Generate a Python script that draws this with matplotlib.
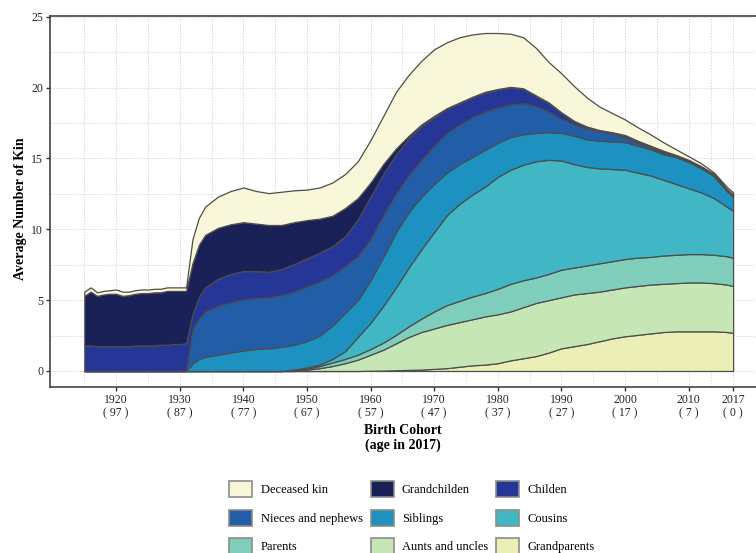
import matplotlib
matplotlib.use("Agg")
import matplotlib.pyplot as plt
from matplotlib.patches import Patch

plt.rcParams["font.family"] = ["Liberation Serif", "DejaVu Serif"]

# Birth cohorts (yearly before 1932, every two years afterwards)
years = list(range(1915, 1932)) + [1932, 1933, 1934] + list(range(1936, 2017, 2)) + [2017]

early0 = [0.0] * 17

grandparents = early0 + [0.0] * 15 + [
    0.02, 0.03, 0.05, 0.08, 0.1, 0.15, 0.2, 0.3, 0.4, 0.45, 0.55, 0.75, 0.9, 1.05, 1.3,
    1.6, 1.75, 1.9, 2.1, 2.3, 2.45, 2.55, 2.65, 2.75, 2.8, 2.8, 2.8, 2.8, 2.75, 2.7]

aunts_uncles = early0 + [0.0] * 10 + [
    0.1, 0.2, 0.35, 0.55, 0.8, 1.13, 1.47, 1.9, 2.32, 2.65, 2.85, 3.05, 3.15, 3.25, 3.4,
    3.45, 3.45, 3.6, 3.75, 3.7, 3.6, 3.65, 3.6, 3.5, 3.45, 3.45, 3.45, 3.45, 3.4, 3.4,
    3.45, 3.45, 3.4, 3.35, 3.3]

parents = early0 + [0.0] * 9 + [
    0.05, 0.05, 0.15, 0.25, 0.3, 0.35, 0.4, 0.5, 0.6, 0.75, 0.95, 1.2, 1.4, 1.5, 1.6,
    1.65, 1.8, 1.95, 1.9, 1.8, 1.85, 1.95, 1.9, 1.95, 2.0, 2.0, 2.0, 2.0, 1.95, 2.0,
    2.0, 2.0, 2.0, 2.0, 2.0, 2.0]

cousins = early0 + [0.0] * 9 + [
    0.05, 0.1, 0.1, 0.25, 0.55, 1.25, 1.85, 2.6, 3.35, 4.15, 4.9, 5.6, 6.35, 6.85, 7.2,
    7.5, 7.9, 8.05, 8.15, 8.2, 8.05, 7.7, 7.3, 6.95, 6.7, 6.5, 6.3, 6.0, 5.75, 5.35,
    5.0, 4.65, 4.35, 4.0, 3.5, 3.3]

siblings = early0 + [
    0.5, 0.85, 1.0, 1.15, 1.3, 1.45, 1.55, 1.6, 1.7, 1.75, 1.85, 2.05, 2.35, 2.7, 2.6,
    3.0, 3.45, 3.9, 3.9, 3.7, 3.4, 3.0, 2.8, 2.65, 2.6, 2.4, 2.3, 2.15, 2.0, 1.95,
    1.95, 2.0, 1.95, 1.95, 1.95, 1.95, 1.9, 1.85, 1.8, 1.9, 1.85, 1.7, 1.55, 1.1, 1.0]

nieces_nephews = early0 + [
    2.4, 2.85, 3.2, 3.45, 3.55, 3.6, 3.6, 3.6, 3.65, 3.75, 3.85, 3.8, 3.55, 3.3, 3.1,
    2.9, 2.95, 2.7, 2.6, 2.6, 2.7, 2.8, 2.8, 2.8, 2.7, 2.5, 2.3, 2.2, 1.9, 1.45,
    1.0, 0.8, 0.75, 0.65, 0.55, 0.35, 0.2, 0.1, 0.1, 0.05, 0.05, 0.05, 0.05, 0.05, 0.05]

children = [
    1.8, 1.8, 1.75, 1.75, 1.75, 1.75, 1.75, 1.75, 1.8, 1.8, 1.8, 1.8, 1.85, 1.85, 1.9,
    1.9, 1.95] + [
    1.1, 1.5, 1.7, 1.9, 2.0, 2.0, 1.9, 1.8, 1.85, 1.95, 2.0, 2.05, 2.05, 2.1, 2.6,
    3.0, 2.9, 2.8, 2.6, 2.4, 2.0, 1.7, 1.5, 1.4, 1.35, 1.25, 1.2, 1.0, 0.7, 0.6,
    0.4, 0.2, 0.1, 0.05, 0.05, 0.1, 0.1, 0.1, 0.1, 0.05, 0.05, 0.05, 0.05, 0.05, 0.05]

grandchildren = [
    3.5, 3.8, 3.55, 3.65, 3.7, 3.7, 3.55, 3.6, 3.65, 3.7, 3.7, 3.75, 3.7, 3.8, 3.75,
    3.75, 3.7] + [
    3.6, 3.7, 3.7, 3.6, 3.5, 3.45, 3.35, 3.3, 3.1, 2.95, 2.7, 2.4, 2.15, 2.0, 1.5,
    1.0, 0.7, 0.4, 0.2, 0.1, 0.1] + [0.05] * 24

deceased = [
    0.3, 0.3, 0.25, 0.25, 0.25, 0.3, 0.3, 0.25, 0.25, 0.25, 0.25, 0.25, 0.25, 0.25, 0.25,
    0.25, 0.25] + [
    1.7, 1.9, 2.0, 2.2, 2.35, 2.45, 2.3, 2.25, 2.35, 2.25, 2.15, 2.2, 2.35, 2.4, 2.6,
    3.0, 3.4, 4.0, 4.3, 4.5, 4.7, 4.65, 4.6, 4.4, 4.15, 3.95, 3.75, 3.6, 3.35, 2.85,
    2.75, 2.45, 2.05, 1.65, 1.35, 1.1, 0.95, 0.8, 0.6, 0.4, 0.25, 0.2, 0.1, 0.15, 0.15]

layers = [grandparents, aunts_uncles, parents, cousins, siblings,
          nieces_nephews, children, grandchildren, deceased]
labels = ["Grandparents", "Aunts and uncles", "Parents", "Cousins", "Siblings",
          "Nieces and nephews", "Childen", "Grandchilden", "Deceased kin"]
colors = ["#ecefb5", "#c7e6b6", "#7fcdbb", "#41b6c4", "#1d91c0",
          "#225ea8", "#263696", "#1a2157", "#f8f7da"]

tick_years = [1920, 1930, 1940, 1950, 1960, 1970, 1980, 1990, 2000, 2010, 2017]
tick_labels = [f"{y}\n( {2017 - y} )" for y in tick_years]

fig = plt.figure(figsize=(7.56, 5.53), dpi=100)
ax = fig.add_axes([50 / 756, 1 - 387 / 553, 706 / 756, 371 / 553])

ax.stackplot(years, *layers, colors=colors, edgecolor="#4d4d4d", linewidth=0.9)

ax.set_xlim(1909.6, 2020.6)
ax.set_ylim(-1.13, 25.05)
ax.set_xticks(tick_years)
ax.set_xticklabels(tick_labels)
ax.set_xticks([1915, 1925, 1935, 1945, 1955, 1965, 1975, 1985, 1995, 2005, 2013.5], minor=True)
ax.set_yticks([0, 5, 10, 15, 20, 25])
ax.set_yticks([2.5, 7.5, 12.5, 17.5, 22.5], minor=True)

ax.set_axisbelow(True)
ax.grid(which="both", color="#d9d9d9", linestyle=(0, (1.5, 1.5)), linewidth=0.7)

ax.tick_params(which="major", length=3, width=1, color="#333333", labelsize=8.5,
               labelcolor="#222222", pad=2)
ax.tick_params(which="minor", length=0)

for side in ["left", "bottom", "top"]:
    ax.spines[side].set_color("#444444")
    ax.spines[side].set_linewidth(1.2)
ax.spines["right"].set_visible(False)

ax.set_ylabel("Average Number of Kin", fontsize=10, fontweight="bold")
ax.yaxis.set_label_coords(-0.033, 0.48)
ax.set_xlabel("Birth Cohort\n(age in 2017)", fontsize=10, fontweight="bold", linespacing=1.1)
ax.xaxis.set_label_coords(0.5, -0.1)

# legend, filled column by column to give the row order
order = [8, 5, 2, 7, 4, 1, 6, 3, 0]
handles = [Patch(facecolor=colors[i], edgecolor="#8c8c8c", linewidth=1.2, label=labels[i])
           for i in order]
fig.legend(handles=handles, loc="center", bbox_to_anchor=(0.545, 0.064), ncol=3,
           frameon=False, fontsize=9, handlelength=1.85, handleheight=1.6,
           handletextpad=0.65, columnspacing=0.65, labelspacing=1.0)

fig.savefig("out.png", dpi=100)
